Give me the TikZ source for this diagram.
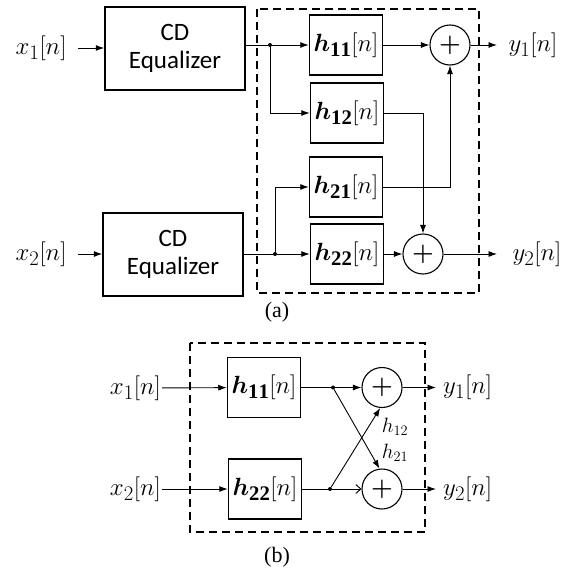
\documentclass[tikz,border=0pt]{standalone}
\usepackage{amsmath,bm}
\usepackage{fontspec}
\setmainfont{Liberation Serif}
\newfontfamily\eqfont{Carlito}
\usetikzlibrary{arrows.meta,positioning}

\newcommand{\hsig}[1]{$\bm{h}_{\mathbf{#1}}[n]$}

\begin{document}
\begin{tikzpicture}[x=1pt,y=-1pt,font=\fontsize{24.88}{27}\selectfont]
        \tikzset{
            eqbox/.style={
                draw,
                line width=1.5pt,
                minimum width=140pt,
                minimum height=83pt,
                align=center,
                font=\eqfont\fontsize{25}{28}\selectfont
            },
            filtbox/.style={
                draw,
                line width=1.5pt,
                minimum width=73pt,
                minimum height=60pt,
                inner sep=0pt
            },
            sumnode/.style={
                draw,
                circle,
                line width=1.1pt,
                minimum size=40pt,
                inner sep=0pt,
                font=\fontsize{30}{32}\selectfont
            },
            sig/.style={
                -{Latex[length=8.5pt,width=6pt]},
                line width=0.9pt
            },
            opensig/.style={
                -{Straight Barb[length=5pt,width=9pt]},
                line width=0.9pt
            },
            wire/.style={line width=0.9pt},
            junc/.style={circle,fill,inner sep=0pt,minimum size=4pt},
            dashbox/.style={draw,dash pattern=on 8pt off 5pt,line width=1.3pt},
            caption/.style={font=\fontsize{22}{24}\selectfont},
            smalllbl/.style={font=\fontsize{20.74}{22}\selectfont,inner sep=0pt}
        }
        \useasboundingbox (0,0) rectangle (585,575);

        % (a) equalizer plus 2x2 butterfly
        \draw[dashbox] (257,9) rectangle (479,293);

        \node[eqbox] (eqa) at (175,48.5) {CD\\Equalizer};
        \node[eqbox] (eqb) at (173,254.5) {CD\\Equalizer};
        \node[anchor=east] (xa) at (70,48) {$x_1[n]$};
        \node[anchor=east] (xb) at (70,254) {$x_2[n]$};

        \node[filtbox] (h11) at (346,45) {\hsig{11}};
        \node[filtbox] (h12) at (347,113) {\hsig{12}};
        \node[filtbox] (h21) at (346,187) {\hsig{21}};
        \node[filtbox] (h22) at (347,254) {\hsig{22}};
        \node[sumnode] (s1) at (450,45) {$\bm{+}$};
        \node[sumnode] (s2) at (423,254) {$\bm{+}$};

        \node[junc] (ja) at (270,45) {};
        \node[junc] (jb) at (275,254) {};

        \node[anchor=west] (ya) at (505,45) {$y_1[n]$};
        \node[anchor=west] (yb) at (509,254) {$y_2[n]$};

        \draw[sig,shorten <=8pt] (xa) -- (eqa.west |- xa);
        \draw[sig,shorten <=8pt] (xb) -- (eqb.west |- xb);
        \draw[wire] (eqa.east |- ja) -- (ja);
        \draw[wire] (eqb.east |- jb) -- (jb);
        \draw[sig] (ja) -- (h11);
        \draw[sig] (ja) |- (h12);
        \draw[sig] (jb) -- (h22);
        \draw[sig] (jb) |- (h21);
        \draw[sig] (h11) -- (s1);
        \draw[sig] (h22) -- (s2);
        \draw[sig] (h12.east) -| (s2.north);
        \draw[sig] (h21.east) -| (s1.south);
        \draw[sig,shorten >=8pt] (s1) -- (ya);
        \draw[sig,shorten >=12pt] (s2) -- (yb);

        \node[caption] (capa) at (277,312) {(a)};

        % (b) butterfly only
        \draw[dashbox] (190,343) rectangle (425,532);

        \node[filtbox] (g11) at (264,387.5) {\hsig{11}};
        \node[filtbox] (g22) at (265,489) {\hsig{22}};
        \node[anchor=east,inner sep=1pt] (xc) at (162,388) {$x_1[n]$};
        \node[anchor=east,inner sep=1pt] (xd) at (162,489) {$x_2[n]$};
        \node[sumnode] (t1) at (382,387.5) {$\bm{+}$};
        \node[sumnode] (t2) at (382,489) {$\bm{+}$};
        \node[junc] (jc) at (333,387.5) {};
        \node[junc] (jd) at (330,489) {};
        \node[anchor=west,inner sep=1pt] (yc) at (442,387.5) {$y_1[n]$};
        \node[anchor=west,inner sep=1pt] (yd) at (442,489) {$y_2[n]$};

        \draw[sig] (xc) -- (g11);
        \draw[sig] (xd) -- (g22);
        \draw[wire] (g11) -- (jc);
        \draw[wire] (g22) -- (jd);
        \draw[sig] (jc) -- (t1);
        \draw[opensig] (jd) -- (t2);
        \draw[sig] (jc) -- (t2.97);
        \draw[sig] (jd) -- (t1.265);
        \draw[sig,shorten >=6pt] (t1) -- (yc);
        \draw[sig,shorten >=6pt] (t2) -- (yd);
        \node[smalllbl] (l12) at (395,427) {$h_{12}$};
        \node[smalllbl] (l21) at (395,453) {$h_{21}$};

        \node[caption] (capb) at (277,557) {(b)};
    \end{tikzpicture}
\end{document}
